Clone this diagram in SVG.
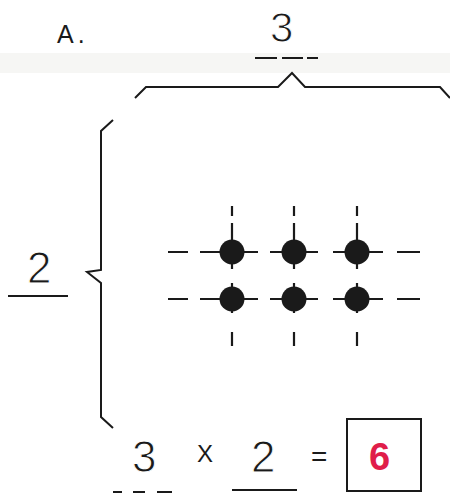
<svg xmlns="http://www.w3.org/2000/svg" width="450" height="495" viewBox="0 0 450 495">
<style>
.t{font-family:"Liberation Sans",Arial,sans-serif;fill:#1a1a1a}
.big{stroke:#fff;stroke-width:1}
.ln{stroke:#1a1a1a;stroke-width:2;fill:none;stroke-linejoin:miter}
.g{stroke:#1a1a1a;stroke-width:2.2;fill:none}
.dot{fill:#1a1a1a}
</style>
<rect width="450" height="495" fill="#fff"/>
<rect x="0" y="53" width="450" height="20" fill="#f6f6f4"/>
<g id="label-a"><text class="t" x="57" y="43" font-size="25" letter-spacing="4">A.</text></g>
<g id="top-count">
<text class="t big" x="270" y="42" font-size="42">3</text>
<path class="g" d="M255 58H277M282 58H303M307 58H318" stroke-width="3"/>
</g>
<g id="top-brace"><path class="ln" d="M135 98L146 87H278L292 73L305 87H440L450 98"/></g>
<g id="left-brace"><path class="ln" d="M113 120L101 131V270L87 272L101 283V417L113 428"/></g>
<g id="left-count">
<text class="t big" x="27" y="283" font-size="44">2</text>
<path class="g" d="M8 296H68"/>
</g>
<g id="grid">
<path class="g" d="M168 252H188M200 252H258M270 252H318M333 252H383M397 252H420M168 299H188M200 299H258M270 299H318M333 299H383M397 299H420M232 206V216M232 223V269M232 283V313M232 332V346M294 206V216M294 223V269M294 283V313M294 332V346M357 206V216M357 223V269M357 283V313M357 332V346"/>
<circle class="dot" cx="232" cy="252" r="12.5"/>
<circle class="dot" cx="294" cy="252" r="12.5"/>
<circle class="dot" cx="357" cy="252" r="12.5"/>
<circle class="dot" cx="232" cy="299" r="12.5"/>
<circle class="dot" cx="294" cy="299" r="12.5"/>
<circle class="dot" cx="357" cy="299" r="12.5"/>
</g>
<g id="equation">
<text class="t big" x="132" y="472" font-size="44">3</text>
<path class="g" d="M113 492H122M133 492H145M157 492H172"/>
<text class="t" x="197" y="462" font-size="24">X</text>
<text class="t big" x="251" y="472" font-size="44">2</text>
<path class="g" d="M232 490H297"/>
<text class="t" x="311" y="466" font-size="28">=</text>
<rect x="347" y="419" width="74" height="72" fill="none" stroke="#1a1a1a" stroke-width="2"/>
<text x="369" y="470" font-size="38" font-weight="bold" font-family="Liberation Sans, Arial, sans-serif" fill="#e01e4a">6</text>
</g>
</svg>
